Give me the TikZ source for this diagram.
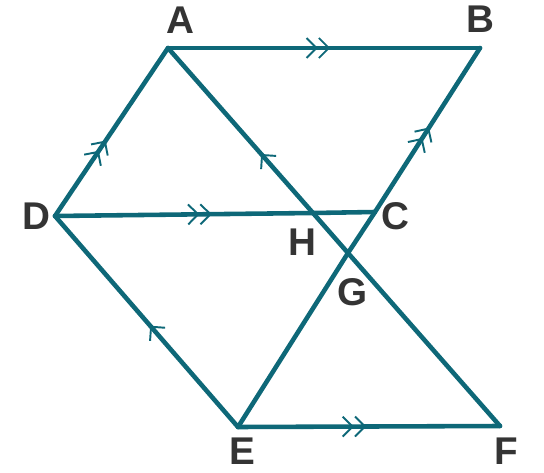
\documentclass[tikz,border=0pt]{standalone}
\usepackage{fontspec}
\setmainfont{Liberation Sans}
\usetikzlibrary{arrows.meta,decorations.markings}
\definecolor{lineteal}{RGB}{14,104,120}
\definecolor{labelgray}{RGB}{52,52,52}

\tikzset{
  side/.style={draw=lineteal, line width=2.6pt, line cap=round, line join=round},
  onebarb/.style={postaction={decorate}, decoration={markings,
    mark=at position #1 with {\arrow[lineteal, line width=1.1pt]{Straight Barb[length=2mm,width=4mm]}}}},
  twobarb/.style={postaction={decorate}, decoration={markings,
    mark=at position #1 with {\arrow[lineteal, line width=1.1pt]{Straight Barb[length=2mm,width=4mm] Straight Barb[length=2mm,width=4mm]}}}},
  lbl/.style={font=\fontsize{22}{26}\selectfont\bfseries, text=labelgray}
}

\begin{document}
\begin{tikzpicture}[x=0.02cm, y=-0.02cm]
\useasboundingbox (0,0) rectangle (544,473);

% Points
\coordinate (A) at (168,48);
\coordinate (B) at (480,48);
\coordinate (C) at (375,212);
\coordinate (D) at (55,216);
\coordinate (E) at (238,427);
\coordinate (F) at (500,426);
\coordinate (H) at (313,213);
\coordinate (G) at (348,253);

% Sides
\draw[side, twobarb=0.52] (A) -- (B);
\draw[side, twobarb=0.45] (D) -- (A);
\draw[side, twobarb=0.49] (D) -- (H) -- (C);
\draw[side, twobarb=0.49] (E) -- (F);
\draw[side, onebarb=0.48] (E) -- (D);
\draw[side, onebarb=0.72] (F) -- (G) -- (H) -- (A);
\draw[side, twobarb=0.79] (E) -- (G) -- (C) -- (B);

% Labels
\node[lbl] (labA) at (180,20) {A};
\node[lbl] (labB) at (480,19) {B};
\node[lbl] (labC) at (395,216) {C};
\node[lbl] (labD) at (36,216) {D};
\node[lbl] (labE) at (242,451) {E};
\node[lbl] (labF) at (506,451) {F};
\node[lbl] (labH) at (302,242) {H};
\node[lbl] (labG) at (353,292) {G};

\end{tikzpicture}
\end{document}
